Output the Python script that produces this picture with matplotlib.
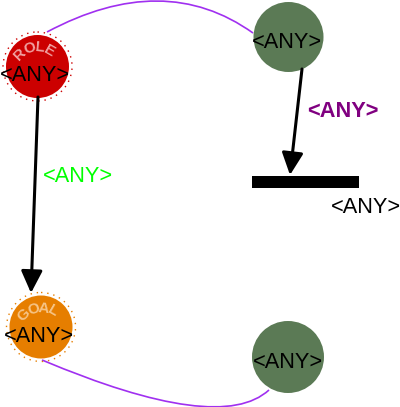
import numpy as np
import matplotlib
matplotlib.use("Agg")
import matplotlib.pyplot as plt
from matplotlib.patches import Circle, Rectangle, FancyArrowPatch, PathPatch, ArrowStyle
from matplotlib.path import Path

plt.rcParams['font.family'] = ['Liberation Sans', 'DejaVu Sans']

# nodes: name, badge text, fill colour
node_names = ['role', 'top', 'goal', 'bottom']
node_badges = ['ROLE', '', 'GOAL', '']
node_labels = ['<ANY>', '<ANY>', '<ANY>', '<ANY>']
edge_labels = ['<ANY>', '<ANY>']
bar_label = '<ANY>'

# pixel layout
node_xy = {'role': (37.5, 66.5), 'top': (288.5, 37), 'goal': (41, 327), 'bottom': (288, 357)}
node_r = {'role': 31.5, 'top': 35, 'goal': 31.5, 'bottom': 36}
node_col = {'role': '#cc0000', 'top': '#5b7a55', 'goal': '#e67e00', 'bottom': '#5b7a55'}
badge_col = {'role': '#f0a0a0', 'goal': '#f6c487'}
label_xy = {'role': (34.5, 81), 'top': (287, 48), 'goal': (39, 342), 'bottom': (288, 368)}

FS = 15.7

fig = plt.figure(figsize=(4.0, 4.07), dpi=100)
ax = fig.add_axes([0, 0, 1, 1])
ax.set_xlim(0, 400)
ax.set_ylim(407, 0)
ax.axis('off')

# curved connectors
top_curve = Path([(47, 32), (164, -30.5), (253, 33)], [Path.MOVETO, Path.CURVE3, Path.CURVE3])
bot_curve = Path([(42, 360), (220, 435), (269, 390)], [Path.MOVETO, Path.CURVE3, Path.CURVE3])
for p in (top_curve, bot_curve):
    ax.add_patch(PathPatch(p, fill=False, edgecolor='#a030f0', lw=1.2, zorder=1))

for name, badge, lab in zip(node_names, node_badges, node_labels):
    cx, cy = node_xy[name]
    r = node_r[name]
    ax.add_patch(Circle((cx, cy), r, facecolor=node_col[name], edgecolor='none', zorder=2))
    if badge:
        ax.add_patch(Circle((cx, cy), r + 3, facecolor='none', edgecolor=node_col[name],
                            lw=1.0, linestyle=(0, (1, 3.5)), zorder=2))
        angles = [-45, -18, 6, 30]
        for ch, a in zip(badge, angles):
            t = np.radians(a)
            x = cx + 24 * np.sin(t)
            y = cy + 5 - 24 * np.cos(t)
            ax.text(x, y, ch, fontsize=11, fontweight='bold', color=badge_col[name],
                    rotation=-a, ha='center', va='center', zorder=3)
    lx, ly = label_xy[name]
    ax.text(lx, ly, lab, fontsize=FS, ha='center', va='baseline', color='black', zorder=4)

# bar
ax.add_patch(Rectangle((252, 176), 107, 12, facecolor='black', edgecolor='none', zorder=2))
ax.text(365.5, 213, bar_label, fontsize=FS, ha='center', va='baseline', color='black')

# arrows
style = ArrowStyle('-|>', head_length=13.5, head_width=6.5)
ax.add_patch(FancyArrowPatch((302, 69), (290, 175), arrowstyle=style, mutation_scale=1,
                             lw=2.2, color='black', shrinkA=0, shrinkB=0, zorder=3))
ax.add_patch(FancyArrowPatch((38, 97), (31, 293), arrowstyle=style, mutation_scale=1,
                             lw=2.2, color='black', shrinkA=0, shrinkB=0, zorder=3))

ax.text(342.5, 117, edge_labels[0], fontsize=FS, fontweight='bold', color='#800080',
        ha='center', va='baseline')
ax.text(77.5, 182, edge_labels[1], fontsize=FS, color='#00ff00', ha='center', va='baseline')

fig.savefig('out.png', dpi=100)
